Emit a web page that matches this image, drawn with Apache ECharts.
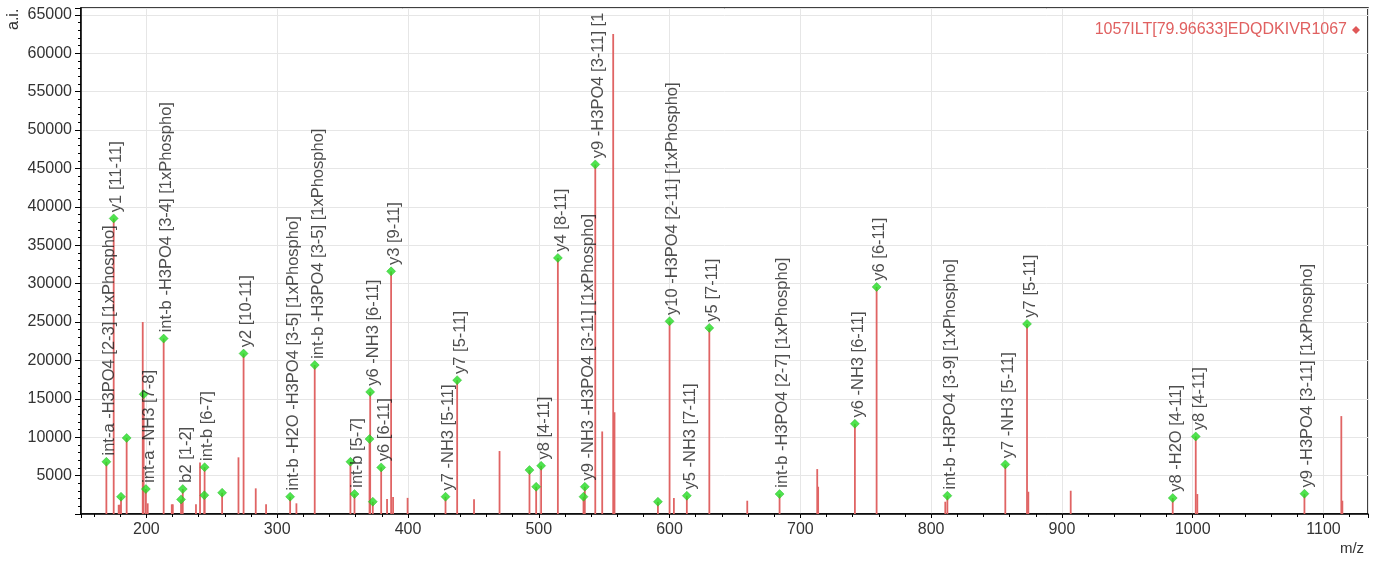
<!DOCTYPE html>
<html><head><meta charset="utf-8">
<script src="https://cdn.jsdelivr.net/npm/echarts@6/dist/echarts.min.js"></script>
<style>html,body{margin:0;padding:0;background:#fff}#c{width:1377px;height:563px}</style>
</head><body><div id="c"></div>
<script>
// Annotated peaks (green diamonds)
const annMz  = [169.4, 175.0, 180.6, 184.9, 197.9, 199.6, 213.2, 226.5, 227.8, 244.3, 244.5, 257.9, 274.3, 309.9, 328.7, 356.0, 359.1, 370.6, 371.1, 373.1, 379.5, 387.1, 428.7, 437.6, 492.9, 498.0, 501.8, 514.6, 534.2, 535.2, 543.2, 591.1, 600.0, 613.2, 630.4, 684.1, 741.7, 758.3, 812.4, 856.7, 873.3, 984.7, 1002.3, 1085.4];
const annInt = [6800, 38500, 2250, 9900, 15600, 3250, 22850, 1900, 3250, 2450, 6100, 2770, 20900, 2250, 19400, 6800, 2600, 9760, 15900, 1600, 6070, 31600, 2250, 17430, 5720, 3550, 6280, 33350, 2250, 3550, 45530, 1600, 25100, 2380, 24240, 2600, 11750, 29570, 2380, 6460, 24760, 2080, 10100, 2640];
const annLabel = [
  "int-a -H3PO4 [2-3] [1xPhospho]", "y1 [11-11]", "", "", "", "int-a -NH3 [7-8]",
  "int-b -H3PO4 [3-4] [1xPhospho]", "", "b2 [1-2]", "", "int-b [6-7]", "", "y2 [10-11]",
  "int-b -H2O -H3PO4 [3-5] [1xPhospho]", "int-b -H3PO4 [3-5] [1xPhospho]", "", "int-b [5-7]",
  "", "y6 -NH3 [6-11]", "", "y6 [6-11]", "y3 [9-11]", "y7 -NH3 [5-11]", "y7 [5-11]",
  "", "", "y8 [4-11]", "y4 [8-11]", "", "y9 -NH3 -H3PO4 [3-11] [1xPhospho]",
  "y9 -H3PO4 [3-11] [1xPhospho]", "", "y10 -H3PO4 [2-11] [1xPhospho]", "y5 -NH3 [7-11]",
  "y5 [7-11]", "int-b -H3PO4 [2-7] [1xPhospho]", "y6 -NH3 [6-11]", "y6 [6-11]",
  "int-b -H3PO4 [3-9] [1xPhospho]", "y7 -NH3 [5-11]", "y7 [5-11]", "y8 -H2O [4-11]",
  "y8 [4-11]", "y9 -H3PO4 [3-11] [1xPhospho]"
];
// Unannotated peaks
const othMz  = [178.8, 179.8, 197.2, 201.0, 219.4, 220.2, 237.9, 241.0, 270.4, 283.6, 291.5, 314.7, 384.0, 388.6, 399.7, 450.5, 470.0, 548.5, 556.9, 557.9, 603.3, 659.4, 712.9, 713.6, 810.8, 874.3, 906.7, 1003.5, 1113.6, 1114.4];
const othInt = [1200, 1200, 25000, 1390, 1260, 1260, 1260, 6700, 7380, 3340, 1260, 1390, 1950, 2200, 2100, 1910, 8200, 10750, 62530, 13250, 2080, 1730, 5850, 3550, 1600, 2900, 3030, 2600, 12750, 1730];

const seqName = "1057ILT[79.96633]EDQDKIVR1067";
const FONT = "Liberation Sans, Arial, sans-serif";

const stickData = annMz.map((m, i) => [m, annInt[i]]).concat(othMz.map((m, i) => [m, othInt[i]]));
const diamondData = annMz.map((m, i) => {
  const item = { value: [m, annInt[i]] };
  // the tallest annotation runs into the plot top and is cut there
  if (annInt[i] > 40000) item.label = { width: 152, overflow: 'truncate', ellipsis: '' };
  return item;
});

const chart = echarts.init(document.getElementById('c'));
chart.setOption({
  animation: false,
  backgroundColor: '#fff',
  grid: { left: 81, right: 9, top: 8, bottom: 49, show: true, borderColor: '#000', borderWidth: 1.5, backgroundColor: 'transparent' },
  legend: {
    data: [{ name: seqName, icon: 'diamond' }],
    right: 12, top: 17, align: 'right', itemWidth: 8, itemHeight: 8, itemGap: 8,
    textStyle: { color: '#e06060', fontSize: 16, fontFamily: FONT }
  },
  xAxis: {
    type: 'value', min: 150, max: 1134, splitNumber: 10,
    axisLine: { show: true, lineStyle: { color: '#000', width: 1.5 } },
    axisTick: { show: true, length: 4, lineStyle: { color: '#000' } },
    minorTick: { show: true, splitNumber: 5, length: 3, lineStyle: { color: '#000' } },
    axisLabel: { color: '#333', fontSize: 16, fontFamily: FONT, margin: 8, showMinLabel: false, showMaxLabel: false,
                 formatter: v => String(v) },
    splitLine: { show: true, lineStyle: { color: '#e6e6e6' } }
  },
  yAxis: {
    type: 'value', min: 0, max: 65900, interval: 5000,
    axisLine: { show: true, lineStyle: { color: '#000', width: 1.5 } },
    axisTick: { show: true, length: 6, lineStyle: { color: '#000' } },
    minorTick: { show: true, splitNumber: 5, length: 3, lineStyle: { color: '#000' } },
    axisLabel: { color: '#333', fontSize: 16, fontFamily: FONT, margin: 9, showMinLabel: false, showMaxLabel: false,
                 formatter: v => String(v) },
    splitLine: { show: true, lineStyle: { color: '#e6e6e6' } }
  },
  graphic: [
    { type: 'text', x: 14, y: 30, rotation: Math.PI / 2,
      style: { text: 'a.i.', fill: '#333', font: '16px ' + FONT, textAlign: 'left', textVerticalAlign: 'middle' } },
    { type: 'text', x: 1352, y: 549,
      style: { text: 'm/z', fill: '#333', font: '15px ' + FONT, textAlign: 'center', textVerticalAlign: 'middle' } }
  ],
  series: [
    {
      name: seqName, type: 'custom', clip: true, z: 2,
      itemStyle: { color: '#e05858' },
      data: stickData,
      renderItem: function (params, api) {
        const p0 = api.coord([api.value(0), 0]);
        const p1 = api.coord([api.value(0), api.value(1)]);
        return { type: 'line', shape: { x1: p0[0], y1: p0[1], x2: p1[0], y2: p1[1] },
                 style: { stroke: '#e06464', lineWidth: 1.8 } };
      }
    },
    {
      name: 'annot', type: 'scatter', z: 3,
      symbol: 'diamond', symbolSize: 9,
      itemStyle: { color: '#22dd22', borderColor: '#19b019', borderWidth: 0.5 },
      data: diamondData,
      label: {
        show: true, formatter: p => annLabel[p.dataIndex],
        rotate: 90, position: [8, -1.5], align: 'left', verticalAlign: 'middle',
        fontSize: 16.5, fontFamily: FONT, color: '#222'
      },
      labelLayout: { hideOverlap: false }
    }
  ]
});
</script></body></html>
